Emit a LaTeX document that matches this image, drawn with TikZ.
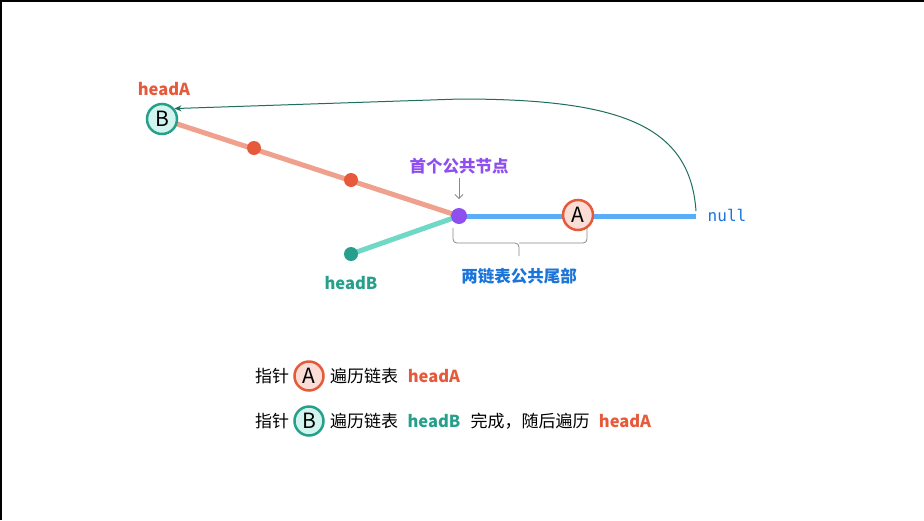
\documentclass[tikz,border=0pt]{standalone}
\usepackage{fontspec}
\setmainfont{Noto Sans CJK SC}
\setmonofont{DejaVu Sans Mono}
\usetikzlibrary{arrows.meta}
\definecolor{cRed}{HTML}{E65A3B}
\definecolor{cPink}{HTML}{F0A18D}
\definecolor{cPinkFill}{HTML}{FADDD4}
\definecolor{cTeal}{HTML}{26A08B}
\definecolor{cTealFill}{HTML}{D2F4EE}
\definecolor{cTealLine}{HTML}{6FD8C6}
\definecolor{cDarkTeal}{HTML}{1F6E5F}
\definecolor{cBlue}{HTML}{5AAEF8}
\definecolor{cBlueText}{HTML}{1A74DA}
\definecolor{cPurple}{HTML}{8E4FEE}
\definecolor{cGray}{HTML}{8A8A8A}
\tikzset{
  lbl/.style={font=\fontsize{16.5}{18}\selectfont\bfseries, inner sep=0pt},
  txt/.style={font=\fontsize{17}{19}\selectfont, inner sep=0pt, text=black},
  ptrA/.style={circle, draw=cRed, fill=cPinkFill, line width=2.5pt, minimum size=#1, inner sep=0pt, font=\fontsize{21}{22}\selectfont},
  ptrB/.style={circle, draw=cTeal, fill=cTealFill, line width=2.5pt, minimum size=#1, inner sep=0pt, font=\fontsize{21}{22}\selectfont},
  dot/.style={circle, fill=#1, minimum size=14pt, inner sep=0pt},
  link/.style={line width=5pt, draw=#1},
}
\begin{document}
\begin{tikzpicture}[x=1pt,y=-1pt]
\useasboundingbox (0,0) rectangle (924,520);
\fill[white] (0,0) rectangle (924,520);
\draw[black, line width=2pt] (1,520) -- (1,1) -- (924,1);
% positions
\coordinate (bpos) at (162,119);
\coordinate (cpos) at (459,216);
\coordinate (b1pos) at (351,254);
\coordinate (tailend) at (696,216);
% links
\draw[link=cPink] (bpos) -- (cpos);
\draw[link=cTealLine] (b1pos) -- (cpos);
\draw[link=cBlue] (cpos) -- (tailend);
% nodes
\node[dot=cRed] (a2) at (254,148) {};
\node[dot=cRed] (a3) at (351,180) {};
\node[dot=cTeal] (b1) at (b1pos) {};
\node[dot=cPurple, minimum size=16pt] (common) at (cpos) {};
\node[ptrB=30pt] (B) at (bpos) {B};
\node[ptrA=30pt] (A) at (578,215) {A};
% labels
\node[lbl, text=cRed] (headA) at (164,89) {headA};
\node[lbl, text=cTeal] (headB) at (351,283) {headB};
\node[lbl, text=cPurple] (first) at (459,166) {首个公共节点};
\node[font=\fontsize{16}{18}\selectfont\ttfamily, text=cBlueText, inner sep=0pt] (null) at (727,215) {null};
\node[lbl, text=cBlueText] (tail) at (519,276) {两链表公共尾部};
% small arrow
\coordinate (arrtop) at (459,178);
\coordinate (arrbot) at (459,199);
\draw[cGray, line width=0.8pt, -{Straight Barb[length=4pt,width=8pt]}] (arrtop) -- (arrbot);
% brace
\draw[cGray, line width=0.8pt, rounded corners=4pt] (453,228) -- (453,243) -- (519,243) -- (519,256);
\draw[cGray, line width=0.8pt, rounded corners=4pt] (587,228) -- (587,243) -- (519,243);
% return curve
\coordinate (cstart) at (696,211);
\draw[cDarkTeal, line width=1pt, -{Stealth[length=7pt,width=6pt]}] (cstart) .. controls (690,125) and (620,99) .. (460,99) -- (B.40);
% legend
\node[txt] (l1a) at (272,376) {指针};
\node[ptrA=29pt] (l1c) at (309,376) {A};
\node[txt] (l1b) at (364,376) {遍历链表};
\node[lbl, text=cRed] (l1d) at (434,376) {headA};
\node[txt] (l2a) at (272,421) {指针};
\node[ptrB=29pt] (l2c) at (309,421) {B};
\node[txt] (l2b) at (364,421) {遍历链表};
\node[lbl, text=cTeal] (l2d) at (434,421) {headB};
\node[txt] (l2e) at (530,421) {完成，随后遍历};
\node[lbl, text=cRed] (l2f) at (625,421) {headA};
\end{tikzpicture}
\end{document}
